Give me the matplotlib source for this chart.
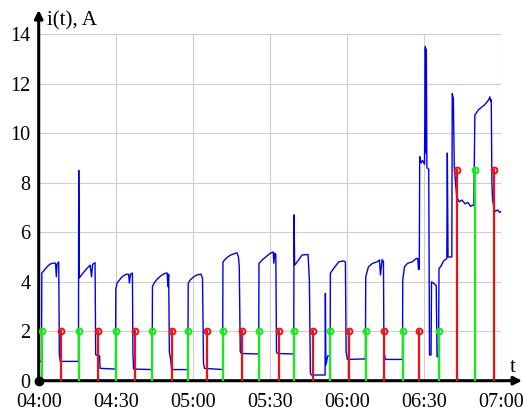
import matplotlib
matplotlib.use("Agg")
import matplotlib.pyplot as plt

# current i(t), minutes after 04:00
t_cur = [0.0, 1.09, 1.21, 2.06, 3.23, 4.40, 5.57, 6.55, 6.86, 7.13, 7.79, 8.03, 8.38,
         15.47, 15.58, 15.78, 16.87, 18.43, 19.99, 20.57, 20.96, 21.93, 22.17, 23.69, 23.88,
         29.88, 30.0, 30.51, 31.29, 32.45, 34.01, 34.99, 35.3, 35.69, 36.47, 36.66, 36.93,
         44.14, 44.26, 44.92, 46.09, 47.65, 49.21, 49.99, 50.26, 50.57, 50.85, 51.35, 51.74,
         58.05, 58.17, 58.95, 60.12, 61.29, 63.12, 63.74, 64.13, 64.52,
         71.57, 71.69, 72.98, 74.53, 76.09, 77.14, 77.73, 78.04, 78.43, 78.82,
         85.6, 85.71, 87.0, 88.56, 90.11, 91.28, 91.48, 91.87, 92.26, 92.53, 92.84,
         99.23, 99.35, 99.58, 101.14, 102.47, 104.81, 105.32, 105.71, 106.09,
         111.43, 111.55, 111.74, 112.44, 113.41, 113.49, 114.78, 116.73, 118.56, 119.34, 119.61, 120.12,
         127.13, 127.25, 128.3, 129.86, 131.81, 132.59, 132.98, 133.64, 134.15, 134.34, 134.92,
         141.55, 141.66, 142.32, 143.49, 145.44, 147.0, 147.5, 147.78, 148.09, 148.25, 148.76,
         149.34, 150.12, 150.45, 150.65, 150.82, 151.05, 151.76, 152.07, 152.66, 152.85, 154.68,
         154.99, 155.57, 155.76, 156.35, 157.52, 158.8, 159.0, 159.27, 160.75, 160.91, 161.34,
         161.7, 162.64, 163.65, 164.7, 165.87, 167.04, 168.04, 169.32, 169.71, 171.15, 172.59,
         173.49, 174.54, 175.05, 175.56, 175.83, 176.1, 176.34, 176.61, 177.51, 178.56, 179.34, 180.0]
i_cur = [0.78, 0.78, 4.35, 4.45, 4.6, 4.71, 4.75, 4.75, 4.2, 4.7, 4.8, 1.05, 0.78,
         0.78, 8.5, 4.15, 4.3, 4.5, 4.67, 4.2, 4.7, 4.77, 1.05, 1.0, 0.5,
         0.47, 3.7, 3.95, 4.05, 4.2, 4.3, 4.3, 3.95, 4.3, 4.35, 1.1, 0.47,
         0.45, 3.8, 3.95, 4.1, 4.25, 4.34, 4.35, 3.8, 4.3, 1.15, 0.85, 0.45,
         0.45, 3.93, 4.07, 4.18, 4.26, 4.31, 4.14, 0.7, 0.5,
         0.45, 4.8, 4.95, 5.07, 5.13, 5.17, 5.0, 4.6, 1.17, 1.1,
         1.08, 4.74, 4.88, 5.02, 5.15, 5.2, 4.75, 5.15, 5.1, 1.17, 1.1,
         1.08, 6.7, 4.67, 4.88, 5.08, 5.1, 4.07, 0.3, 0.23,
         0.23, 3.53, 0.63, 1.0, 1.0, 4.34, 4.54, 4.8, 4.84, 4.8, 1.17, 0.86,
         0.88, 4.2, 4.6, 4.74, 4.81, 4.88, 4.27, 4.9, 4.8, 1.17, 0.86,
         0.86, 4.07, 4.6, 4.74, 4.81, 4.94, 4.94, 4.5, 4.5, 9.05, 8.8,
         8.9, 8.75, 13.5, 9.2, 13.4, 8.6, 8.55, 1.04, 1.04, 4.0, 3.85,
         0.97, 0.97, 4.54, 4.6, 4.83, 4.94, 9.2, 5.0, 5.0, 11.6, 11.4,
         8.65, 7.43, 7.23, 7.3, 7.15, 7.2, 7.05, 7.1, 10.73, 10.95, 11.07,
         11.15, 11.27, 11.35, 11.47, 11.3, 11.35, 8.0, 7.3, 6.83, 6.9, 6.8, 6.85]

# switch-on (green) and switch-off (red) events
t_on = [1.17, 15.58, 30.0, 44.26, 58.17, 71.69, 85.71, 99.35, 113.49, 127.25, 141.66, 155.84, 169.71]
h_on = [2, 2, 2, 2, 2, 2, 2, 2, 2, 2, 2, 2, 8.5]
t_off = [8.69, 22.99, 37.40, 51.74, 65.45, 79.21, 93.35, 106.67, 120.90, 134.53, 148.17, 162.59, 177.0]
h_off = [2, 2, 2, 2, 2, 2, 2, 2, 2, 2, 2, 8.5, 8.5]

x_ticks = [0, 30, 60, 90, 120, 150, 180]
x_labels = ["04:00", "04:30", "05:00", "05:30", "06:00", "06:30", "07:00"]
y_ticks = [0, 2, 4, 6, 8, 10, 12, 14]

plt.rcParams['font.family'] = ['Liberation Serif', 'DejaVu Serif']

fig = plt.figure(figsize=(5.23, 4.13), dpi=100)
ax = fig.add_axes([0.074, 0.0782, 0.8845, 0.8389])

ax.plot(t_cur, i_cur, color='#0000ee', lw=1.0, zorder=3)

green = '#11ee11'
red = '#ee1111'
for t, h in zip(t_on, h_on):
    ax.plot([t, t], [0, h], color=green, lw=1.6, zorder=4)
for t, h in zip(t_off, h_off):
    ax.plot([t, t], [0, h], color=red, lw=1.6, zorder=4)
ax.plot(t_on, h_on, 'o', ms=4.2, mfc='none', mec=green, mew=1.4, zorder=5)
ax.plot(t_off, h_off, 'o', ms=4.2, mfc='none', mec=red, mew=1.4, zorder=5)

ax.set_xlim(0, 180)
ax.set_ylim(0, 14)
ax.set_xticks(x_ticks)
ax.set_xticklabels(x_labels)
ax.set_yticks(y_ticks)
ax.tick_params(axis='both', length=0, labelsize=14.5)
ax.tick_params(axis='x', pad=9)
ax.tick_params(axis='y', pad=6)
ax.grid(True, color='#cfcfcf', lw=0.8)
ax.set_axisbelow(True)
for s in ax.spines.values():
    s.set_visible(False)

# axes with arrows
ax.annotate('', xy=(0, 1.07), xytext=(0, 0), xycoords='axes fraction',
            arrowprops=dict(arrowstyle='-|>', lw=2.2, color='black', mutation_scale=12,
                            shrinkA=0, shrinkB=0), annotation_clip=False)
ax.annotate('', xy=(1.045, 0), xytext=(0, 0), xycoords='axes fraction',
            arrowprops=dict(arrowstyle='-|>', lw=2.2, color='black', mutation_scale=12,
                            shrinkA=0, shrinkB=0), annotation_clip=False)
ax.plot([0], [0], 'o', color='black', ms=6, clip_on=False, zorder=6)

ax.text(0.017, 1.01, 'i(t), A', transform=ax.transAxes, fontsize=15, ha='left', va='bottom')
ax.text(1.025, 0.01, 't', transform=ax.transAxes, fontsize=15, ha='center', va='bottom')

fig.savefig('out.png', dpi=100)
